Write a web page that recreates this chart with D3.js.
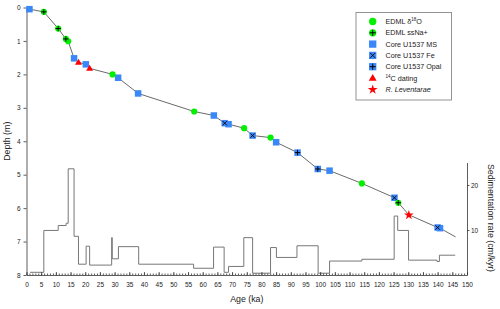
<!DOCTYPE html>
<html>
<head>
<meta charset="utf-8">
<script src="https://cdn.jsdelivr.net/npm/d3@7"></script>
<style>
  body { margin: 0; background: #fff; }
  svg { font-family: "Liberation Sans", Arial, sans-serif; }
</style>
</head>
<body>
<svg id="chart"></svg>
<script>
// tie points: [age (ka), depth (m)]
let edmlO18 = [[14.2, 1.01], [29.3, 2.0], [57.1, 3.11], [74.1, 3.61], [83.1, 3.89], [114.2, 5.26]];
let edmlNa = [[5.9, 0.13], [10.8, 0.63], [13.4, 0.94], [126.6, 5.84]];
let coreMS = [[1.0, 0.05], [16.2, 1.52], [20.2, 1.70], [31.2, 2.10], [38.0, 2.57], [63.8, 3.23],
              [68.8, 3.49], [85.0, 4.03], [103.2, 4.88], [140.8, 6.60]];
let coreFe = [[67.5, 3.46], [77.0, 3.83], [125.3, 5.69], [140.0, 6.58]];
let coreOpal = [[92.3, 4.34], [99.2, 4.83]];
let c14 = [[17.7, 1.64], [21.5, 1.82]];
let leventae = [[130.2, 6.20]];
let modelEnd = [[146.1, 6.86]];

// sedimentation rate steps: [age where step starts (ka), rate (cm/kyr)]
let sedRate = [[1.2, 0.6], [5.9, 9.9], [10.8, 11.0], [13.5, 11.5], [14.2, 23.6], [16.2, 8.6],
               [17.7, 2.4], [20.3, 6.4], [21.5, 2.2], [29.0, 8.3], [29.2, 3.6], [31.3, 6.3],
               [38.2, 2.4], [56.9, 1.5], [63.7, 6.2], [67.3, 0.6], [68.8, 1.9], [74.0, 8.3],
               [77.0, 0.4], [83.1, 6.1], [85.1, 3.9], [92.1, 6.5], [99.3, 0.4], [103.2, 3.1],
               [114.2, 3.5], [125.2, 13.1], [126.4, 9.9], [130.1, 3.3], [139.8, 3.0],
               [140.6, 4.4], [146.0, 4.4]];

let ageTicks = d3.range(0, 151, 5);
let ageMinor = d3.range(0, 151, 1);
let depthTicks = d3.range(0, 9, 1);
let rateTicks = [10, 20];

let legendItems = [
  { type: 'circle', text: ['EDML δ', '18', 'O'] },
  { type: 'plus', text: ['EDML ssNa+'] },
  { type: 'square', text: ['Core U1537 MS'] },
  { type: 'fe', text: ['Core U1537 Fe'] },
  { type: 'opal', text: ['Core U1537 Opal'] },
  { type: 'triangle', text: ['', '14', 'C dating'] },
  { type: 'star', text: ['R. Leventarae'], italic: true }
];

// colours
let green = '#00f000';
let blue = '#3a87fa';
let red = '#ff0000';

// configuration of svg/plot area
let config = { svg: {}, plot: {} };
config.svg.width = 500;
config.svg.height = 309;
config.plot.left = 26.5;
config.plot.right = 467;
config.plot.top = 7.5;
config.plot.bottom = 275;

let svg = d3.select('svg#chart');
svg.attr('width', config.svg.width);
svg.attr('height', config.svg.height);

// scales
let scale = {};
scale.x = d3.scaleLinear().domain([0, 150]).range([config.plot.left, config.plot.right]);
scale.y = d3.scaleLinear().domain([0, 8]).range([config.plot.top, config.plot.bottom]);
scale.rate = d3.scaleLinear().domain([0, 25]).range([config.plot.bottom, 162.5]);

// sedimentation rate step line
let stepLine = d3.line()
  .x(d => scale.x(d[0]))
  .y(d => scale.rate(d[1]))
  .curve(d3.curveStepAfter);

svg.append('path')
  .datum(sedRate)
  .attr('d', stepLine)
  .attr('fill', 'none')
  .attr('stroke', '#777')
  .attr('stroke-width', 1);

// age-depth model line through all tie points
let model = d3.merge([edmlO18, edmlNa, coreMS, coreFe, coreOpal, c14, leventae, modelEnd])
  .sort((a, b) => a[0] - b[0]);

let ageLine = d3.line()
  .x(d => scale.x(d[0]))
  .y(d => scale.y(d[1]));

svg.append('path')
  .datum(model)
  .attr('d', ageLine)
  .attr('fill', 'none')
  .attr('stroke', '#444')
  .attr('stroke-width', 0.8);

// axes
let axis = {};
axis.x = d3.axisBottom(scale.x).tickValues(ageTicks).tickSize(-3).tickSizeOuter(0).tickPadding(7.5);
axis.xMinor = d3.axisBottom(scale.x).tickValues(ageMinor).tickSize(-1.5).tickFormat('');
axis.y = d3.axisLeft(scale.y).tickValues(depthTicks).tickSize(3).tickSizeOuter(0).tickPadding(3);
axis.rate = d3.axisRight(scale.rate).tickValues(rateTicks).tickSize(2.5).tickSizeOuter(0).tickPadding(1.5);

let gxMinor = svg.append('g').attr('transform', translate(0, config.plot.bottom)).call(axis.xMinor);
gxMinor.select('.domain').remove();
let gx = svg.append('g').attr('transform', translate(0, config.plot.bottom)).call(axis.x);
let gy = svg.append('g').attr('transform', translate(config.plot.left, 0)).call(axis.y);
let gr = svg.append('g').attr('transform', translate(config.plot.right, 0)).call(axis.rate);

[gx, gxMinor, gy, gr].forEach(function(g) {
  g.selectAll('path, line').attr('stroke', '#333').attr('stroke-width', 0.8);
  g.selectAll('text').attr('fill', '#222').style('font-size', '6.5px')
    .style('font-family', '"Liberation Sans", Arial, sans-serif');
});

// axis titles
svg.append('text')
  .attr('x', (config.plot.left + config.plot.right) / 2)
  .attr('y', 302)
  .attr('text-anchor', 'middle')
  .style('font-size', '8.8px')
  .attr('fill', '#222')
  .text('Age (ka)');

svg.append('text')
  .attr('transform', translate(10, (config.plot.top + config.plot.bottom) / 2) + ' rotate(-90)')
  .attr('text-anchor', 'middle')
  .style('font-size', '8.8px')
  .attr('fill', '#222')
  .text('Depth (m)');

svg.append('text')
  .attr('transform', translate(487.5, 218) + ' rotate(90)')
  .attr('text-anchor', 'middle')
  .style('font-size', '8.8px')
  .attr('fill', '#222')
  .text('Sedimentation rate (cm/kyr)');

// marker drawing helper
function drawMarker(g, type, x, y, s) {
  if (type === 'circle' || type === 'plus') {
    g.append('circle').attr('cx', x).attr('cy', y).attr('r', s * 0.5).attr('fill', green);
  }
  if (type === 'square' || type === 'fe' || type === 'opal') {
    g.append('rect').attr('x', x - s / 2).attr('y', y - s / 2).attr('width', s).attr('height', s)
      .attr('fill', blue);
  }
  if (type === 'plus' || type === 'opal') {
    let a = s * 0.42;
    g.append('path').attr('d', `M${x - a},${y}H${x + a}M${x},${y - a}V${y + a}`)
      .attr('stroke', '#000').attr('stroke-width', 1);
  }
  if (type === 'fe') {
    let a = s * 0.33;
    g.append('path').attr('d', `M${x - a},${y - a}L${x + a},${y + a}M${x - a},${y + a}L${x + a},${y - a}`)
      .attr('stroke', '#000').attr('stroke-width', 0.9);
  }
  if (type === 'triangle') {
    g.append('path').attr('d', d3.symbol(d3.symbolTriangle, s * s * 0.5)())
      .attr('transform', translate(x, y + 0.5)).attr('fill', red);
  }
  if (type === 'star') {
    g.append('path').attr('d', d3.symbol(d3.symbolStar, s * s * 0.45)())
      .attr('transform', translate(x, y + 0.3)).attr('fill', red);
  }
}

let marks = svg.append('g').attr('id', 'marks');
let series = [
  [coreMS, 'square', 6.5],
  [coreFe, 'fe', 6.5],
  [coreOpal, 'opal', 6.5],
  [edmlO18, 'circle', 6.2],
  [edmlNa, 'plus', 6.2],
  [c14, 'triangle', 6.5],
  [leventae, 'star', 8]
];
series.forEach(function(s) {
  s[0].forEach(function(d) {
    drawMarker(marks, s[1], scale.x(d[0]), scale.y(d[1]), s[2]);
  });
});

// legend
let legend = svg.append('g').attr('id', 'legend');
legend.append('rect')
  .attr('x', 356).attr('y', 12.5).attr('width', 95.5).attr('height', 87.5)
  .attr('fill', '#fff').attr('stroke', '#888').attr('stroke-width', 0.9);

legendItems.forEach(function(item, i) {
  let y = 21.5 + i * 11.3;
  drawMarker(legend, item.type, 372.7, y, item.type === 'star' ? 8.2 : 7.3);
  let t = legend.append('text')
    .attr('x', 385.5).attr('y', y + 2.6)
    .style('font-size', '7.2px')
    .attr('fill', '#222');
  if (item.italic) t.style('font-style', 'italic');
  t.append('tspan').text(item.text[0]);
  if (item.text.length > 1) {
    t.append('tspan').attr('dy', -2.8).style('font-size', '4.5px').text(item.text[1]);
    t.append('tspan').attr('dy', 2.8).text(item.text[2]);
  }
});

// helper method to make translating easier
function translate(x, y) {
  return 'translate(' + x + ',' + y + ')';
}
</script>
</body>
</html>
